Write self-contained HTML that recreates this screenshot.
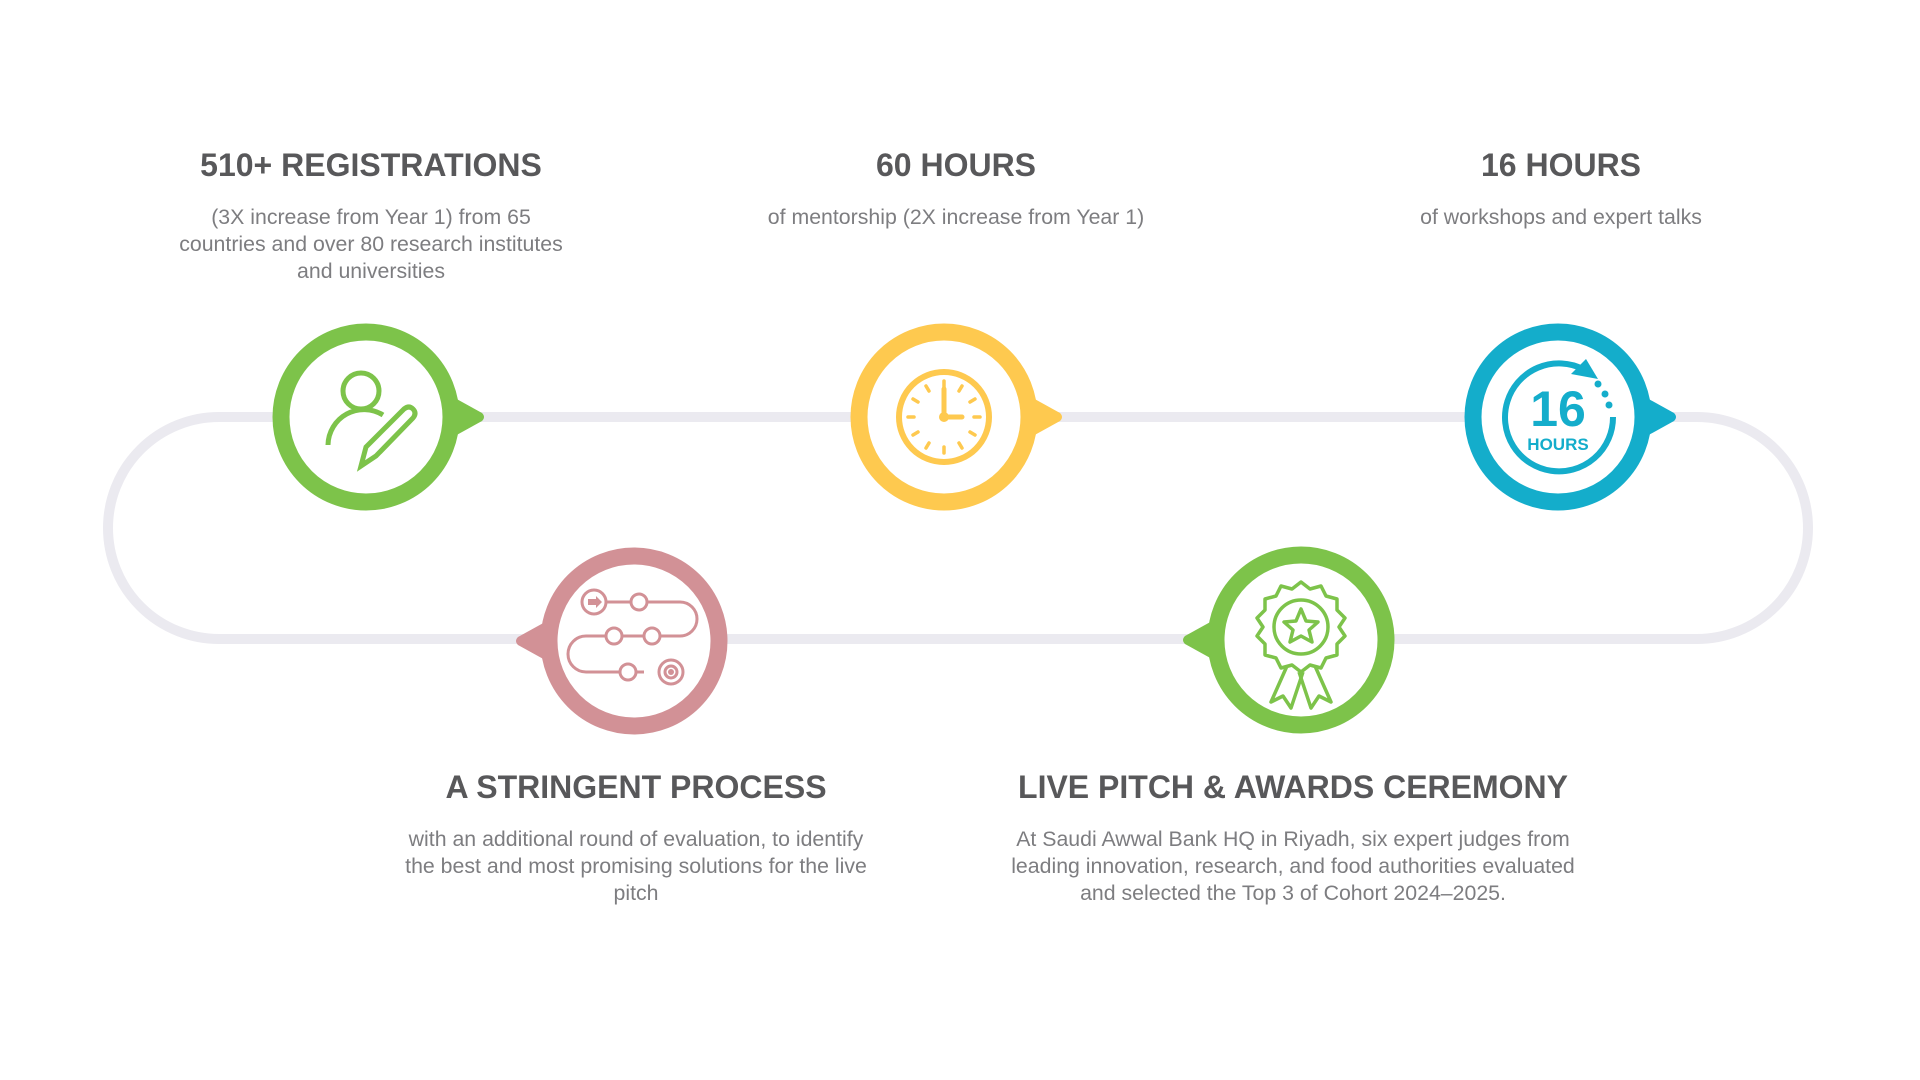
<!DOCTYPE html>
<html><head><meta charset="utf-8"><style>
html,body{margin:0;padding:0;background:#fff;}
body{width:1920px;height:1080px;position:relative;overflow:hidden;font-family:"Liberation Sans",Arial,sans-serif;}
.t{position:absolute;text-align:center;transform:translateX(-50%);}
.t h2{margin:0;font-size:32px;font-weight:bold;color:#58585a;line-height:36px;white-space:nowrap;}
.t p{margin:21px 0 0;font-size:21.3px;color:#7d7d80;line-height:27px;}
</style></head><body>
<svg width="1920" height="1080" style="position:absolute;left:0;top:0">
<path d="M366 417 H1697 A111 111 0 0 1 1697 639 H219 A111 111 0 0 1 219 417 Z" fill="none" stroke="#ebeaf0" stroke-width="10"/>
<g transform="translate(366,417)">
<circle r="85" fill="#fff" stroke="#7dc34a" stroke-width="17"/>
<path d="M78 -25 L116 -4 Q120 0 116 4 L78 25 Z" fill="#7dc34a"/>
<g fill="none" stroke="#7dc34a" stroke-width="5">
<circle cx="-5" cy="-26" r="18"/>
<path d="M-38 28 A36 36 0 0 1 17 -2"/>
<path d="M-5 49 L0 30 L38 -8 Q43 -12 47 -8 Q51 -4 47 1 L10 39 Z"/>
</g></g>
<g transform="translate(944,417)">
<circle r="85" fill="#fff" stroke="#fec94f" stroke-width="17"/>
<path d="M78 -25 L116 -4 Q120 0 116 4 L78 25 Z" fill="#fec94f"/>
<circle r="45" fill="none" stroke="#fec94f" stroke-width="6"/>
<g stroke="#fec94f" stroke-width="3.5" stroke-linecap="round">
<line x1="0" y1="-36" x2="0" y2="-30"/><line x1="0" y1="36" x2="0" y2="30"/>
<line x1="-36" y1="0" x2="-30" y2="0"/><line x1="36" y1="0" x2="30" y2="0"/>
<line x1="18" y1="-31" x2="15" y2="-26"/><line x1="-18" y1="-31" x2="-15" y2="-26"/>
<line x1="18" y1="31" x2="15" y2="26"/><line x1="-18" y1="31" x2="-15" y2="26"/>
<line x1="31" y1="18" x2="26" y2="15"/><line x1="-31" y1="18" x2="-26" y2="15"/>
<line x1="31" y1="-18" x2="26" y2="-15"/><line x1="-31" y1="-18" x2="-26" y2="-15"/>
</g>
<path d="M0 -28 V0 H18" fill="none" stroke="#fec94f" stroke-width="5" stroke-linecap="round"/>
<circle r="5" fill="#fec94f"/>
</g>
<g transform="translate(1558,417)">
<circle r="85" fill="#fff" stroke="#14adcb" stroke-width="17"/>
<path d="M78 -25 L116 -4 Q120 0 116 4 L78 25 Z" fill="#14adcb"/>
<path d="M55 0 A54 54 0 1 1 25 -48" fill="none" stroke="#14adcb" stroke-width="6"/>
<path d="M13 -43 L28 -58 L40 -38 Z" fill="#14adcb"/>
<circle cx="40" cy="-33" r="3.5" fill="#14adcb"/><circle cx="47" cy="-23" r="3.5" fill="#14adcb"/><circle cx="51" cy="-12" r="3.5" fill="#14adcb"/>
<text x="0" y="9" text-anchor="middle" font-family="Liberation Sans,sans-serif" font-weight="bold" font-size="50" fill="#14adcb">16</text>
<text x="0" y="33" text-anchor="middle" font-family="Liberation Sans,sans-serif" font-weight="bold" font-size="17" fill="#14adcb">HOURS</text>
</g>
<g transform="translate(634,641)">
<circle r="85" fill="#fff" stroke="#d29196" stroke-width="17"/>
<path d="M-78 -25 L-116 -4 Q-120 0 -116 4 L-78 25 Z" fill="#d29196"/>
<g fill="none" stroke="#d29196" stroke-width="3">
<path d="M-37 -39 H46 A17 17 0 0 1 46 -5 H-48 A18 18 0 0 0 -48 31 H10"/>
<circle cx="-40" cy="-39" r="12" fill="#fff"/>
<circle cx="5" cy="-39" r="8" fill="#fff"/>
<circle cx="-20" cy="-5" r="8" fill="#fff"/>
<circle cx="18" cy="-5" r="8" fill="#fff"/>
<circle cx="-6" cy="31" r="8" fill="#fff"/>
<circle cx="37" cy="31" r="12" fill="#fff"/>
<circle cx="37" cy="31" r="6"/>
</g>
<circle cx="37" cy="31" r="3" fill="#d29196"/>
<path d="M-46 -42 H-38 V-45 L-32 -39 L-38 -33 V-36 H-46 Z" fill="#d29196"/>
</g>
<g transform="translate(1301,640)">
<circle r="85" fill="#fff" stroke="#7dc34a" stroke-width="17"/>
<path d="M-78 -25 L-116 -4 Q-120 0 -116 4 L-78 25 Z" fill="#7dc34a"/>
<g fill="none" stroke="#7dc34a" stroke-width="3.5" stroke-linejoin="round">
<path d="M0 -58 L9 -51 L20 -54 L25 -44 L36 -41 L36 -30 L44 -22 L38 -13 L44 -4 L36 4 L36 15 L25 18 L20 28 L9 25 L0 32 L-9 25 L-20 28 L-25 18 L-36 15 L-36 4 L-44 -4 L-38 -13 L-44 -22 L-36 -30 L-36 -41 L-25 -44 L-20 -54 L-9 -51 Z"/>
<circle cx="0" cy="-13" r="27"/>
<path d="M0 -31 L5 -19 L17 -18 L8 -10 L11 2 L0 -4 L-11 2 L-8 -10 L-17 -18 L-5 -19 Z"/>
<path d="M-14 26 L-30 62 L-18 56 L-10 68 L2 32"/>
<path d="M14 26 L30 62 L18 56 L10 68 L-2 32"/>
</g></g>
</svg>
<div class="t" style="left:371px;top:147px;width:410px"><h2>510+ REGISTRATIONS</h2><p>(3X increase from Year 1) from 65 countries and over 80 research institutes and universities</p></div>
<div class="t" style="left:956px;top:147px;width:520px"><h2>60 HOURS</h2><p>of mentorship (2X increase from Year 1)</p></div>
<div class="t" style="left:1561px;top:147px;width:420px"><h2>16 HOURS</h2><p>of workshops and expert talks</p></div>
<div class="t" style="left:636px;top:769px;width:465px"><h2>A STRINGENT PROCESS</h2><p>with an additional round of evaluation, to identify the best and most promising solutions for the live pitch</p></div>
<div class="t" style="left:1293px;top:769px;width:565px"><h2>LIVE PITCH &amp; AWARDS CEREMONY</h2><p>At Saudi Awwal Bank HQ in Riyadh, six expert judges from leading innovation, research, and food authorities evaluated and selected the Top 3 of Cohort 2024–2025.</p></div>
</body></html>
